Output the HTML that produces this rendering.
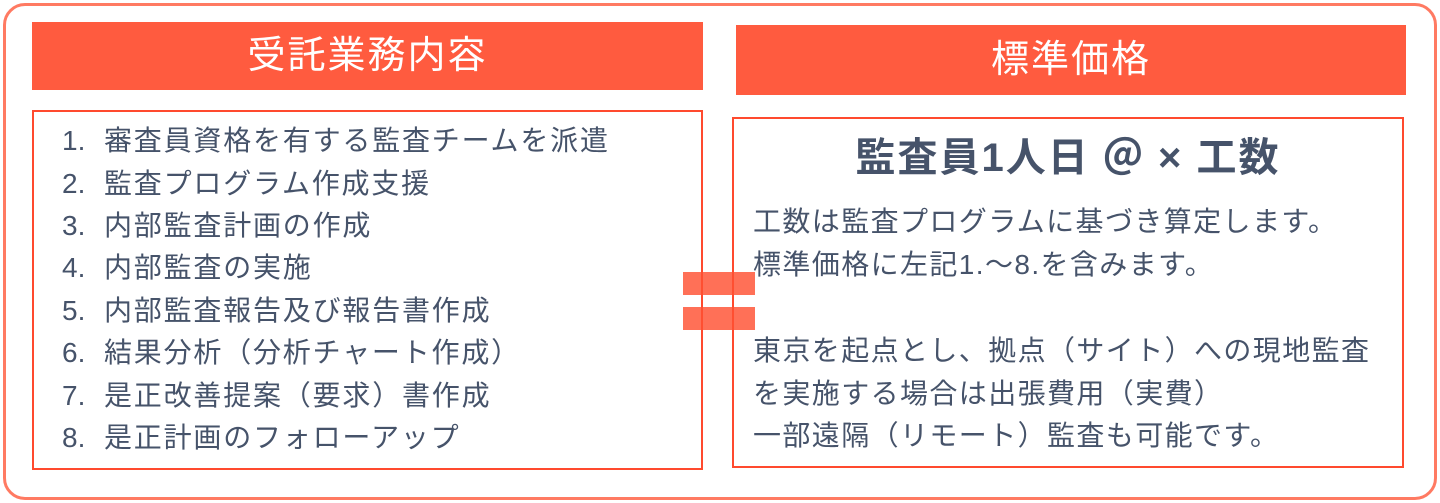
<!DOCTYPE html>
<html><head><meta charset="utf-8"><style>
*{margin:0;padding:0;box-sizing:border-box}
body{width:1440px;height:503px;background:#fff;position:relative;overflow:hidden;font-family:"Liberation Sans","Noto Sans CJK JP",sans-serif;color:#46536a}
.abs{position:absolute}
.outer{left:3px;top:3px;width:1434px;height:497px;border:3px solid #ff7a62;border-radius:22px}
.hd{background:#ff5b3f;color:#fff;font-size:38px;letter-spacing:2px;text-align:center}
.box{border:2px solid #ff4a2e}
.li{position:absolute;left:62px;font-size:28px;letter-spacing:1.8px;white-space:nowrap;line-height:34px}
.p{position:absolute;left:753px;font-size:28px;letter-spacing:1.4px;white-space:nowrap;line-height:34px}
.bar{background:rgba(255,80,50,0.82)}
.n{display:inline-block;width:42px;letter-spacing:0}
</style></head><body>
<div class="abs outer"></div>
<div class="abs hd" style="left:32px;top:22px;width:671px;height:68px;line-height:68px">受託業務内容</div>
<div class="abs hd" style="left:736px;top:25px;width:670px;height:70px;line-height:70px">標準価格</div>
<div class="abs box" style="left:32px;top:110px;width:671px;height:360px"></div>
<div class="abs box" style="left:732px;top:117px;width:672px;height:351px"></div>
<div class="li" style="top:124px"><span class="n">1.</span>審査員資格を有する監査チームを派遣</div>
<div class="li" style="top:167px"><span class="n">2.</span>監査プログラム作成支援</div>
<div class="li" style="top:209px"><span class="n">3.</span>内部監査計画の作成</div>
<div class="li" style="top:251px"><span class="n">4.</span>内部監査の実施</div>
<div class="li" style="top:294px"><span class="n">5.</span>内部監査報告及び報告書作成</div>
<div class="li" style="top:336px"><span class="n">6.</span>結果分析（分析チャート作成）</div>
<div class="li" style="top:379px"><span class="n">7.</span>是正改善提案（要求）書作成</div>
<div class="li" style="top:421px"><span class="n">8.</span>是正計画のフォローアップ</div>
<div class="abs" style="left:732px;width:672px;top:134px;text-align:center;font-size:40px;letter-spacing:2px;font-weight:bold;line-height:48px">監査員1人日 ＠ × 工数</div>
<div class="p" style="top:205px">工数は監査プログラムに基づき算定します。</div>
<div class="p" style="top:248px">標準価格に左記1.～8.を含みます。</div>
<div class="p" style="top:334px">東京を起点とし、拠点（サイト）への現地監査</div>
<div class="p" style="top:377px">を実施する場合は出張費用（実費）</div>
<div class="p" style="top:419px">一部遠隔（リモート）監査も可能です。</div>
<div class="abs bar" style="left:683px;top:272px;width:72px;height:23px"></div>
<div class="abs bar" style="left:683px;top:307px;width:72px;height:23px"></div>
</body></html>
